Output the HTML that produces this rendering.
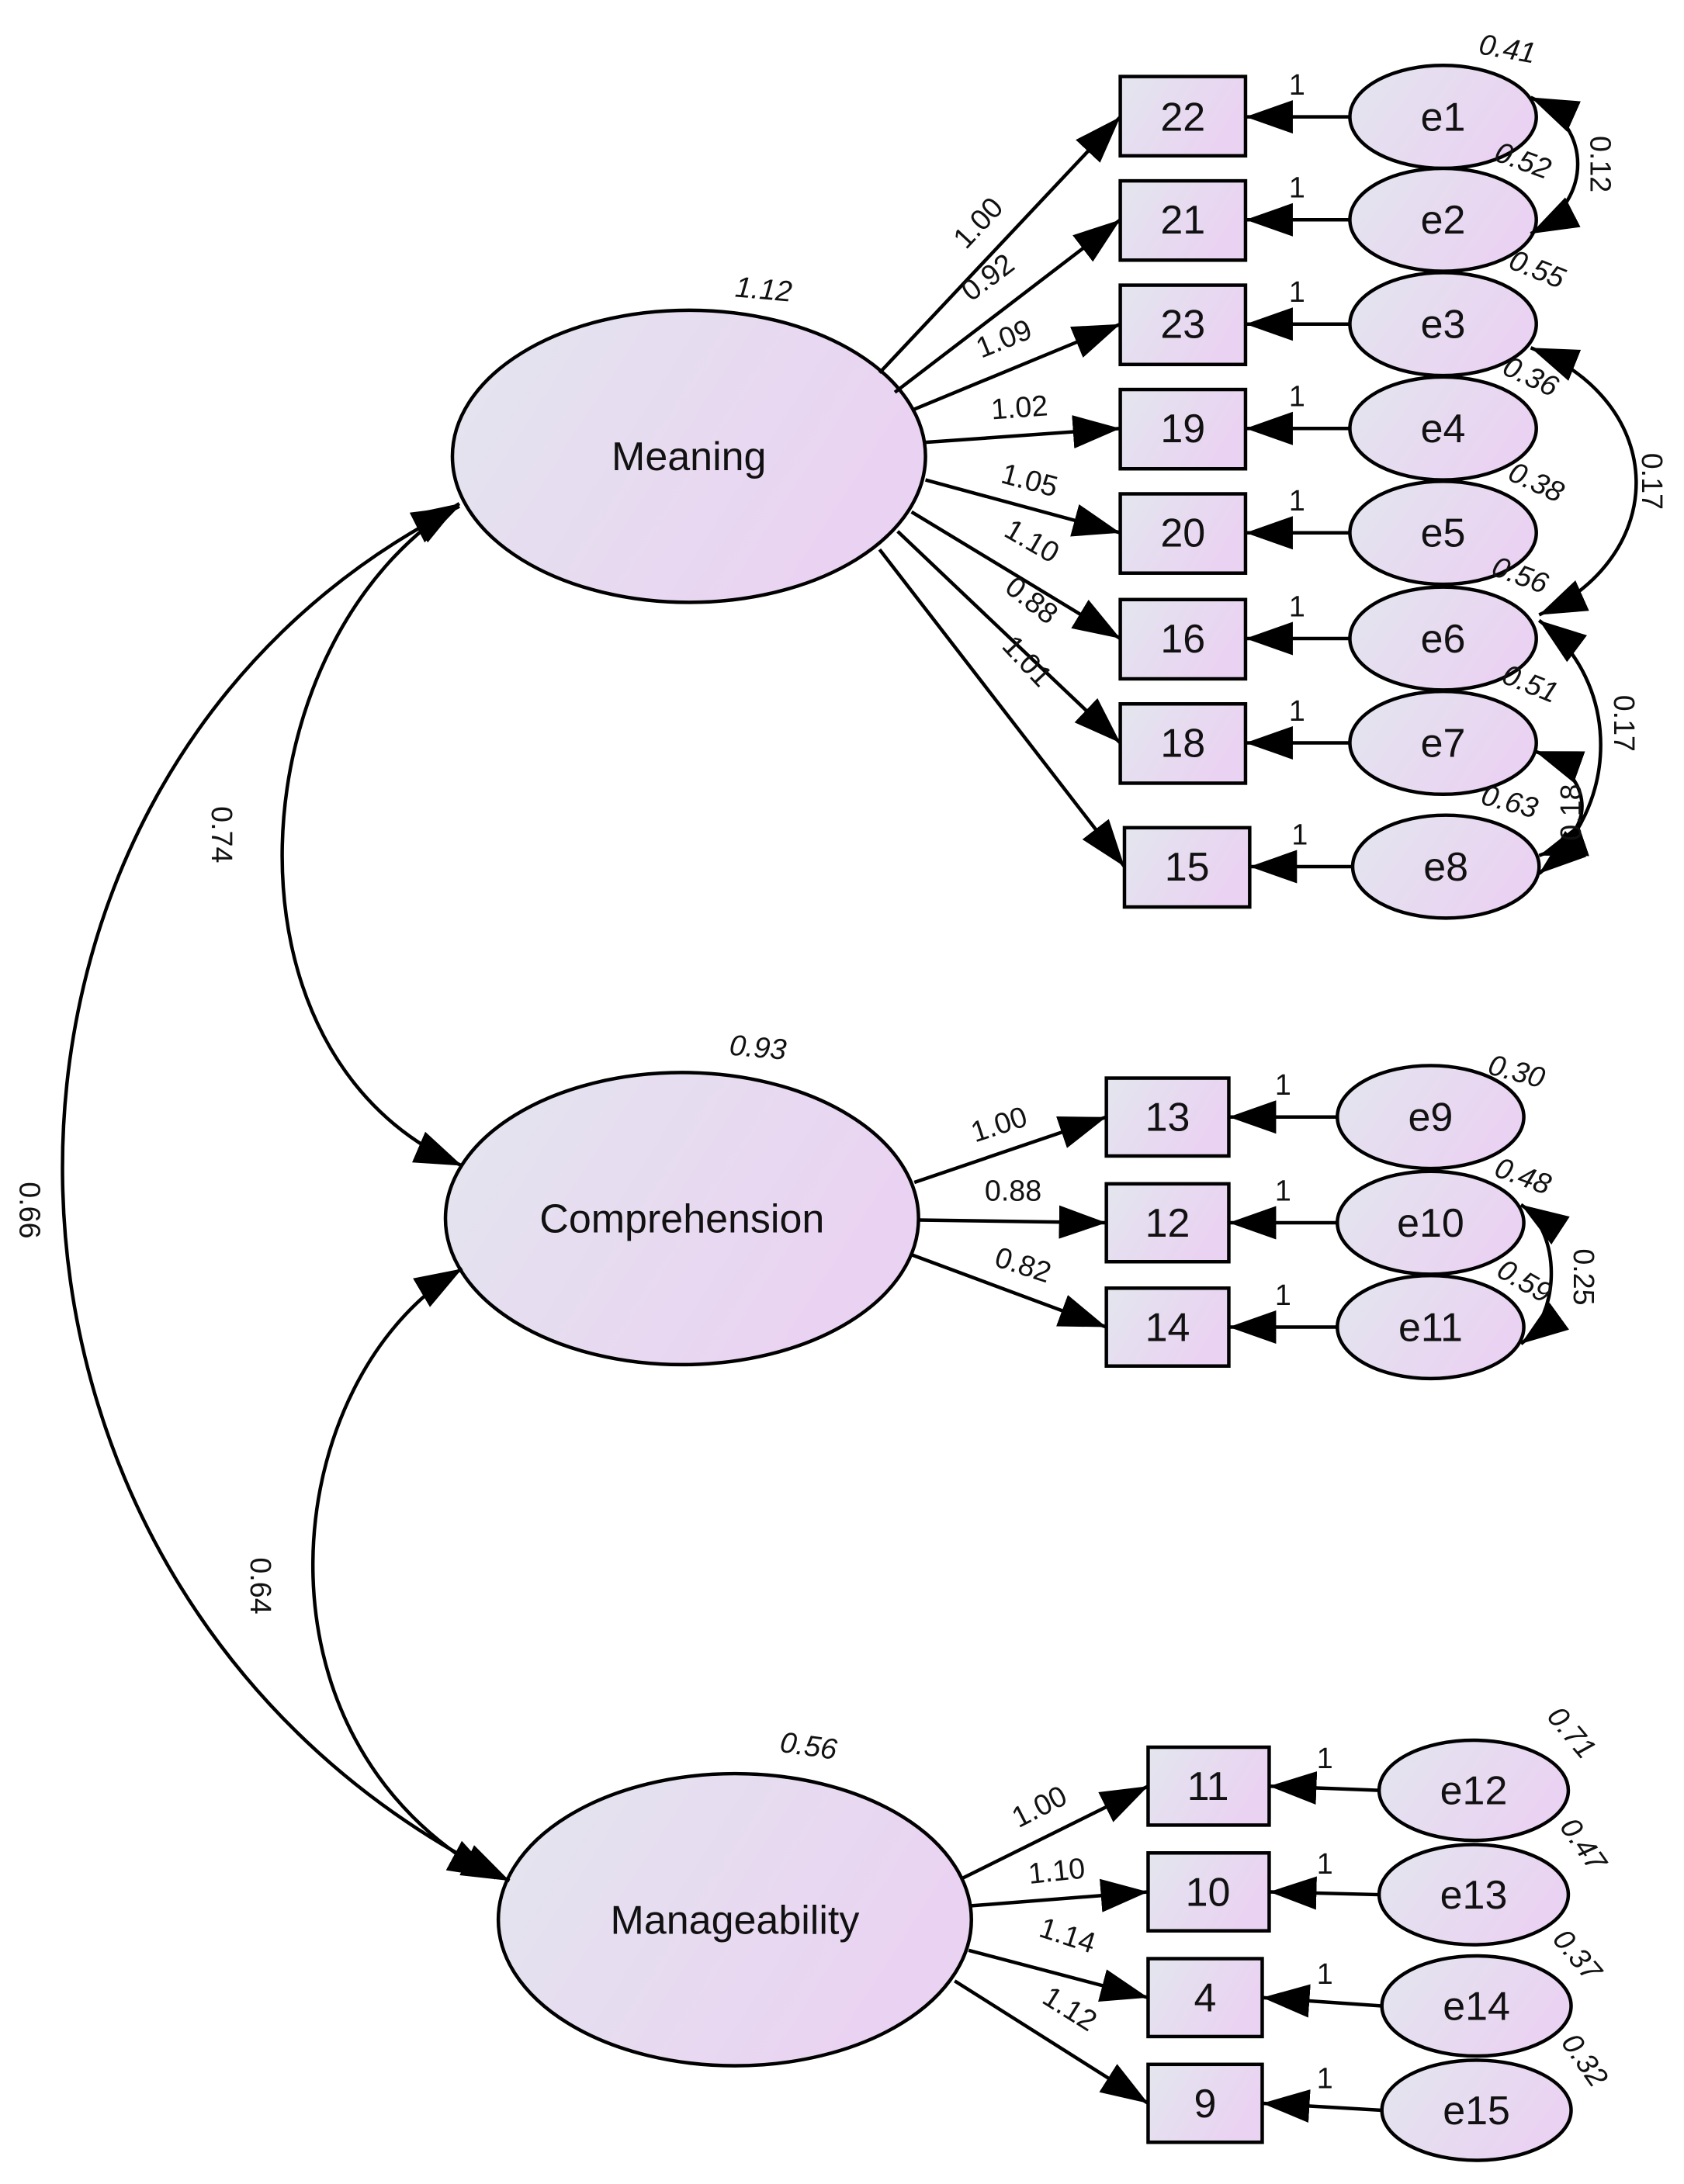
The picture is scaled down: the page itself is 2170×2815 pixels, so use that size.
<!DOCTYPE html>
<html><head><meta charset="utf-8"><style>html,body{margin:0;padding:0;background:#fff}svg{display:block}</style></head>
<body>
<svg width="2170" height="2815" viewBox="0 0 1210 1570" xmlns="http://www.w3.org/2000/svg" font-family="Liberation Sans, Arial, sans-serif">
<defs>
<linearGradient id="g" x1="0" y1="0" x2="1" y2="0.4"><stop offset="0" stop-color="#e3e6ee"/><stop offset="1" stop-color="#ead2f2"/></linearGradient>
<marker id="a" markerUnits="userSpaceOnUse" markerWidth="36" markerHeight="26" refX="34" refY="12" orient="auto-start-reverse" viewBox="0 0 36 24"><path d="M0,0 L34,12 L0,24 Z" fill="#000"/></marker>
</defs>
<g stroke="#000" stroke-width="2.5" fill="url(#g)">
<ellipse cx="495" cy="328" rx="170" ry="105"/>
<ellipse cx="490" cy="876" rx="170" ry="105"/>
<ellipse cx="528" cy="1380" rx="170" ry="105"/>
<rect x="805" y="55" width="90" height="57"/>
<rect x="805" y="130" width="90" height="57"/>
<rect x="805" y="205" width="90" height="57"/>
<rect x="805" y="280" width="90" height="57"/>
<rect x="805" y="355" width="90" height="57"/>
<rect x="805" y="431" width="90" height="57"/>
<rect x="805" y="506" width="90" height="57"/>
<rect x="808" y="595" width="90" height="57"/>
<ellipse cx="1037" cy="84" rx="67" ry="37"/>
<ellipse cx="1037" cy="158" rx="67" ry="37"/>
<ellipse cx="1037" cy="233" rx="67" ry="37"/>
<ellipse cx="1037" cy="308" rx="67" ry="37"/>
<ellipse cx="1037" cy="383" rx="67" ry="37"/>
<ellipse cx="1037" cy="459" rx="67" ry="37"/>
<ellipse cx="1037" cy="534" rx="67" ry="37"/>
<ellipse cx="1039" cy="623" rx="67" ry="37"/>
<rect x="795" y="775" width="88" height="56"/>
<rect x="795" y="851" width="88" height="56"/>
<rect x="795" y="926" width="88" height="56"/>
<ellipse cx="1028" cy="803" rx="67" ry="37"/>
<ellipse cx="1028" cy="879" rx="67" ry="37"/>
<ellipse cx="1028" cy="954" rx="67" ry="37"/>
<rect x="825" y="1256" width="87" height="56"/>
<rect x="825" y="1332" width="87" height="56"/>
<rect x="825" y="1408" width="82" height="56"/>
<rect x="825" y="1484" width="82" height="56"/>
<ellipse cx="1059" cy="1287" rx="68" ry="36"/>
<ellipse cx="1059" cy="1362" rx="68" ry="36"/>
<ellipse cx="1061" cy="1442" rx="68" ry="36"/>
<ellipse cx="1061" cy="1517" rx="68" ry="36"/>
</g>
<g stroke="#000" stroke-width="2.5" fill="none" marker-end="url(#a)">
<line x1="632" y1="268" x2="805" y2="84"/>
<line x1="643" y1="282" x2="805" y2="158"/>
<line x1="655" y1="295" x2="805" y2="233"/>
<line x1="665" y1="318" x2="805" y2="308"/>
<line x1="665" y1="345" x2="805" y2="383"/>
<line x1="655" y1="368" x2="805" y2="459"/>
<line x1="645" y1="382" x2="805" y2="534"/>
<line x1="632" y1="395" x2="808" y2="623"/>
<line x1="970" y1="84" x2="895" y2="84"/>
<line x1="970" y1="158" x2="895" y2="158"/>
<line x1="970" y1="233" x2="895" y2="233"/>
<line x1="970" y1="308" x2="895" y2="308"/>
<line x1="970" y1="383" x2="895" y2="383"/>
<line x1="970" y1="459" x2="895" y2="459"/>
<line x1="970" y1="534" x2="895" y2="534"/>
<line x1="972" y1="623" x2="898" y2="623"/>
<line x1="657" y1="850" x2="795" y2="803"/>
<line x1="660" y1="877" x2="795" y2="879"/>
<line x1="655" y1="902" x2="795" y2="954"/>
<line x1="961" y1="803" x2="883" y2="803"/>
<line x1="961" y1="879" x2="883" y2="879"/>
<line x1="961" y1="954" x2="883" y2="954"/>
<line x1="692" y1="1350" x2="825" y2="1284"/>
<line x1="698" y1="1370" x2="825" y2="1360"/>
<line x1="696" y1="1402" x2="825" y2="1436"/>
<line x1="686" y1="1424" x2="825" y2="1512"/>
<line x1="991" y1="1287" x2="912" y2="1284"/>
<line x1="991" y1="1362" x2="912" y2="1360"/>
<line x1="993" y1="1442" x2="907" y2="1436"/>
<line x1="993" y1="1517" x2="907" y2="1512"/>
</g>
<g stroke="#000" stroke-width="2.5" fill="none" marker-start="url(#a)" marker-end="url(#a)">
<path d="M330,362 C170,460 150,760 332,838"/>
<path d="M330,364 C-60,560 -52,1150 366,1352"/>
<path d="M332,912 C200,990 170,1250 356,1350"/>
<path d="M1100,70 C1145,90 1145,145 1100,168"/>
<path d="M1100,250 C1200,290 1200,400 1106,442"/>
<path d="M1106,446 C1165,490 1165,580 1106,628"/>
<path d="M1103,540 C1145,555 1150,600 1106,615"/>
<path d="M1093,866 C1122,885 1122,945 1093,966"/>
</g>
<g font-size="29" text-anchor="middle" fill="#111">
<text x="495" y="338">Meaning</text>
<text x="490" y="886">Comprehension</text>
<text x="528" y="1390">Manageability</text>
<text x="850" y="94">22</text><text x="850" y="168">21</text><text x="850" y="243">23</text><text x="850" y="318">19</text>
<text x="850" y="393">20</text><text x="850" y="469">16</text><text x="850" y="544">18</text><text x="853" y="633">15</text>
<text x="1037" y="94">e1</text><text x="1037" y="168">e2</text><text x="1037" y="243">e3</text><text x="1037" y="318">e4</text>
<text x="1037" y="393">e5</text><text x="1037" y="469">e6</text><text x="1037" y="544">e7</text><text x="1039" y="633">e8</text>
<text x="839" y="813">13</text><text x="839" y="889">12</text><text x="839" y="964">14</text>
<text x="1028" y="813">e9</text><text x="1028" y="889">e10</text><text x="1028" y="964">e11</text>
<text x="868" y="1294">11</text><text x="868" y="1370">10</text><text x="866" y="1446">4</text><text x="866" y="1522">9</text>
<text x="1059" y="1297">e12</text><text x="1059" y="1372">e13</text><text x="1061" y="1452">e14</text><text x="1061" y="1527">e15</text>
</g>
<g font-size="21" fill="#111" text-anchor="middle">
<text x="932" y="68">1</text><text x="932" y="142">1</text><text x="932" y="217">1</text><text x="932" y="292">1</text>
<text x="932" y="367">1</text><text x="932" y="443">1</text><text x="932" y="518">1</text><text x="934" y="607">1</text>
<text x="922" y="787">1</text><text x="922" y="863">1</text><text x="922" y="938">1</text>
<text x="952" y="1271">1</text><text x="952" y="1347">1</text><text x="952" y="1426">1</text><text x="952" y="1501">1</text>
<text transform="translate(708,165) rotate(-47)">1.00</text>
<text transform="translate(714,205) rotate(-37)">0.92</text>
<text transform="translate(724,250) rotate(-22)">1.09</text>
<text transform="translate(733,300) rotate(-4)">1.02</text>
<text transform="translate(738,352) rotate(15)">1.05</text>
<text transform="translate(738,395) rotate(30)">1.10</text>
<text transform="translate(737,437) rotate(38)">0.88</text>
<text transform="translate(733,480) rotate(47)">1.01</text>
<text transform="translate(720,815) rotate(-18)">1.00</text>
<text transform="translate(728,863)">0.88</text>
<text transform="translate(733,916) rotate(18)">0.82</text>
<text transform="translate(750,1305) rotate(-27)">1.00</text>
<text transform="translate(760,1352) rotate(-6)">1.10</text>
<text transform="translate(765,1398) rotate(18)">1.14</text>
<text transform="translate(765,1450) rotate(32)">1.12</text>
<text transform="translate(152,600) rotate(90)">0.74</text>
<text transform="translate(14,870) rotate(90)">0.66</text>
<text transform="translate(180,1140) rotate(90)">0.64</text>
<text transform="translate(1143,118) rotate(90)">0.12</text>
<text transform="translate(1180,346) rotate(90)">0.17</text>
<text transform="translate(1160,520) rotate(90)">0.17</text>
<text transform="translate(1136,584) rotate(-90)">0.18</text>
<text transform="translate(1131,918) rotate(90)">0.25</text>
</g>
<g font-size="21" font-style="italic" fill="#111" text-anchor="middle">
<text transform="translate(548,215) rotate(5)">1.12</text>
<text transform="translate(544,760) rotate(5)">0.93</text>
<text transform="translate(580,1262) rotate(8)">0.56</text>
<text transform="translate(1082,42) rotate(10)">0.41</text>
<text transform="translate(1092,122) rotate(20)">0.52</text>
<text transform="translate(1102,200) rotate(22)">0.55</text>
<text transform="translate(1097,277) rotate(25)">0.36</text>
<text transform="translate(1101,353) rotate(25)">0.38</text>
<text transform="translate(1090,420) rotate(20)">0.56</text>
<text transform="translate(1097,498) rotate(22)">0.51</text>
<text transform="translate(1083,583) rotate(15)">0.63</text>
<text transform="translate(1088,777) rotate(15)">0.30</text>
<text transform="translate(1092,852) rotate(20)">0.48</text>
<text transform="translate(1092,927) rotate(30)">0.59</text>
<text transform="translate(1124,1250) rotate(50)">0.71</text>
<text transform="translate(1132,1330) rotate(55)">0.47</text>
<text transform="translate(1128,1410) rotate(50)">0.37</text>
<text transform="translate(1133,1485) rotate(55)">0.32</text>
</g>
</svg>
</body></html>
